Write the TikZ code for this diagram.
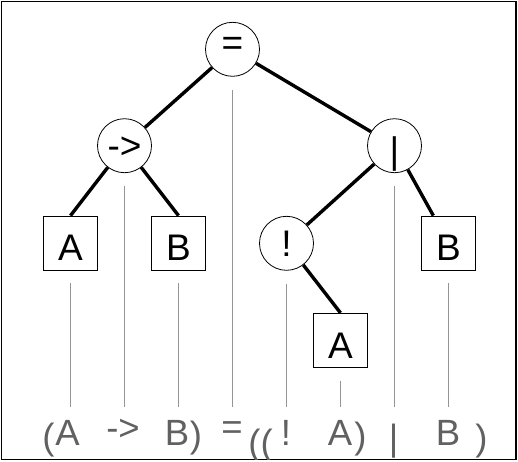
\documentclass[tikz,border=0pt]{standalone}
\usepackage{fontspec}
\setmainfont{Liberation Sans}

\begin{document}
\begin{tikzpicture}[x=1pt,y=-1pt,
  op/.style={draw,circle,minimum size=54pt,inner sep=0pt,line width=0.8pt,
    font=\fontsize{37}{37}\selectfont,text height=26.8pt,text depth=0pt},
  leaf/.style={draw,rectangle,minimum size=54pt,inner sep=0pt,line width=0.8pt,
    font=\fontsize{37}{37}\selectfont,text height=35.6pt,text depth=0pt},
  branch/.style={line width=3.4pt},
  guide/.style={draw=black!42,line width=1.5pt},
  tok/.style={anchor=base,inner sep=0pt,text=black!62,font=\fontsize{36.5}{36.5}\selectfont}]
  \useasboundingbox (0,0) rectangle (518,461);
  \draw[line width=1.2pt] (1.5,1.5) rectangle (516,459.5);
  \clip (1.5,1.5) rectangle (516,459.5);

  % tree
  \node[op,text height=12.2pt] (eq) at (232.5,49.3) {=};
  \node[op,text height=24.8pt] (imp) at (124.5,145.7) {->};
  \node[op,text height=34.8pt] (or) at (394.5,145.7) {|};
  \node[leaf] (a1) at (70.5,243) {A};
  \node[leaf] (b1) at (178.5,243) {B};
  \node[op] (neg) at (286.5,243.3) {!};
  \node[leaf] (b2) at (448.5,243) {B};
  \node[leaf] (a2) at (340.5,340.3) {A};

  \draw[branch] (eq) -- (imp);
  \draw[branch] (eq) -- (or);
  \draw[branch] (imp) -- (a1.north);
  \draw[branch] (imp) -- (b1.north);
  \draw[branch] (or) -- (neg);
  \draw[branch] (or) -- (b2);
  \draw[branch] (neg) -- (a2.north);

  % text below
  \coordinate (gend) at (0,406.7);
  \node[tok] (t1) at (48.5,449.5) {(};
  \node[tok] (t2) at (67.5,445) {A};
  \node[tok] (t3) at (123,440) {->};
  \node[tok] (t4) at (177,445) {B};
  \node[tok] (t5) at (196,447.5) {)};
  \node[tok] (t6) at (232,439.8) {=};
  \node[tok] (t7) at (260.5,455.5) {((};
  \node[tok] (t8) at (286,445) {!};
  \node[tok] (t9) at (340,445) {A};
  \node[tok] (t10) at (360.5,448.5) {)};
  \node[tok] (t11) at (393.5,450.5) {|};
  \node[tok] (t12) at (448,445) {B};
  \node[tok] (t13) at (481.5,450.5) {)};

  \draw[guide] ([yshift=-13pt]a1.south) -- (a1 |- gend);
  \draw[guide] ([yshift=-13pt]imp.south) -- (imp |- gend);
  \draw[guide] ([yshift=-13pt]b1.south) -- (b1 |- gend);
  \draw[guide] ([yshift=-13pt]eq.south) -- (eq |- gend);
  \draw[guide] ([yshift=-13pt]neg.south) -- (neg |- gend);
  \draw[guide] ([yshift=-13pt]a2.south) -- (a2 |- gend);
  \draw[guide] ([yshift=-13pt]or.south) -- (or |- gend);
  \draw[guide] ([yshift=-13pt]b2.south) -- (b2 |- gend);
\end{tikzpicture}
\end{document}
